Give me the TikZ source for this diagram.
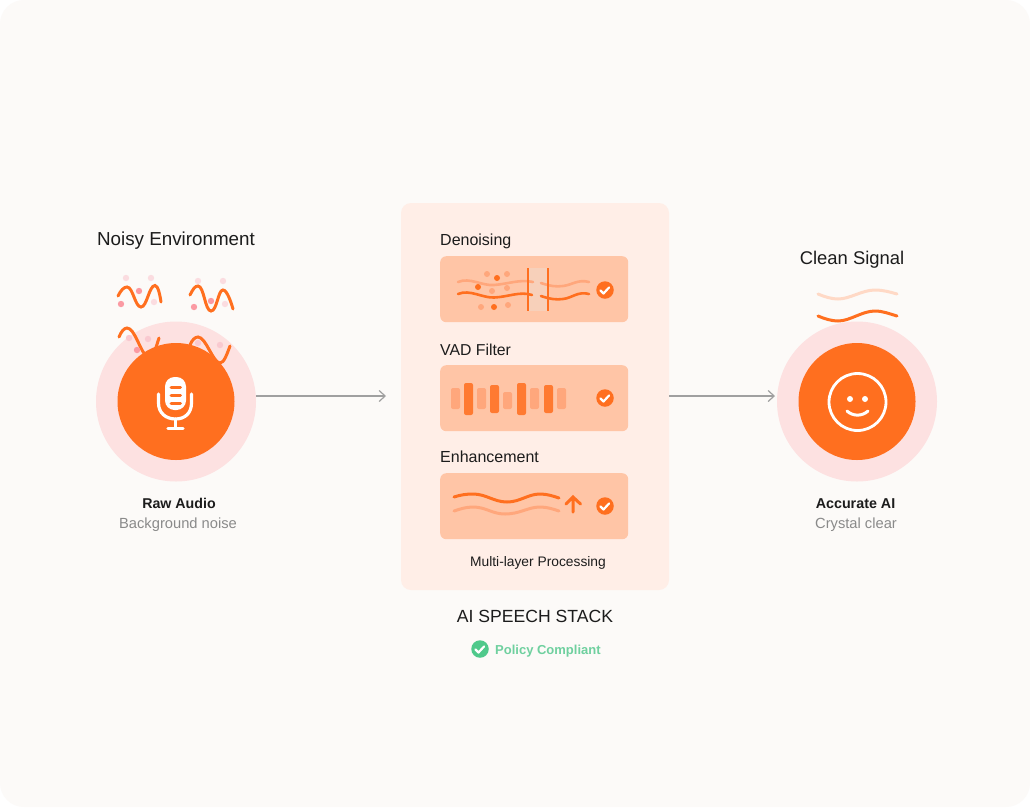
\documentclass[tikz,border=0pt]{standalone}
\usepackage{fontspec}
\setmainfont{Liberation Sans}
\usetikzlibrary{arrows.meta}
\definecolor{bgc}{HTML}{FCFAF8}
\definecolor{ora}{HTML}{FF6F1F}
\definecolor{halo}{HTML}{FDE1E1}
\definecolor{panelc}{HTML}{FFEEE7}
\definecolor{cardc}{HTML}{FFC5A6}
\definecolor{midor}{HTML}{FFA77C}
\definecolor{paleor}{HTML}{FFD9C6}
\definecolor{bandc}{HTML}{F7D0BA}
\definecolor{pinkd}{HTML}{FB9AA3}
\definecolor{pinkl}{HTML}{FBDCE0}
\definecolor{pinkh}{HTML}{F9C9D0}
\definecolor{grn}{HTML}{4FC98B}
\definecolor{grnt}{HTML}{6FD09F}
\definecolor{txt}{HTML}{1C1C1C}
\definecolor{subt}{HTML}{8A8A8A}
\definecolor{arrowc}{HTML}{A0A0A0}
\tikzset{
 x=1pt,y=-1pt,
 halocirc/.style={circle,fill=halo,minimum size=160pt,inner sep=0pt},
 corecirc/.style={circle,fill=ora,minimum size=117pt,inner sep=0pt},
 head/.style={font=\fontsize{#1}{20}\selectfont,text=txt,inner sep=0pt},
 small/.style={font=\fontsize{#1}{18}\selectfont,text=txt,inner sep=0pt},
 capt/.style={font=\fontsize{13.8}{15}\selectfont,text=txt,inner sep=0pt},
 boldl/.style={font=\fontsize{#1}{16}\selectfont\bfseries,text=txt,inner sep=0pt},
 subl/.style={font=\fontsize{14.7}{16}\selectfont,text=subt,inner sep=0pt},
 card/.style={fill=cardc,rounded corners=6pt,draw=none},
 wave/.style={line width=3pt,line cap=round,draw=ora},
 wavem/.style={line width=3pt,line cap=round,draw=midor},
 flow/.style={draw=arrowc,line width=1.2pt,-{Straight Barb[length=6pt,width=11pt]}},
 chk/.style={circle,fill=ora,minimum size=17.5pt,inner sep=0pt},
 tick/.style={draw=white,line width=2.2pt,line cap=round,line join=round},
}
\newcommand{\dotp}[3]{\fill[#1] (#2,#3) circle (3.2pt);}
\begin{document}
\begin{tikzpicture}
\useasboundingbox (0,0) rectangle (1030,807);
\fill[white] (0,0) rectangle (1030,807);
\fill[bgc,rounded corners=24pt] (0,0) rectangle (1030,807);

% left
\node[head=18.8,anchor=base] (noisy) at (176,245) {Noisy Environment};
\node[halocirc] (lhalo) at (176,401.5) {};
\draw[wave] (118,296) .. controls (121,290) and (124,287) .. (127,287) .. controls (133,287) and (135,307) .. (141,307) .. controls (147,307) and (149,285.5) .. (155,285.5) .. controls (158,285.5) and (160,295) .. (161,302);
\draw[wave] (190,295) .. controls (193,289) and (195,286) .. (198,286) .. controls (204,286) and (205,311) .. (211,311) .. controls (217,311) and (218,290) .. (223,290) .. controls (227,290) and (231,302) .. (233,309);
\draw[wave] (119,337) .. controls (121,332) and (124,328) .. (127,328) .. controls (135,328) and (140,352) .. (148,358) .. controls (153,360) and (156,347) .. (159,338);
\draw[wave] (190,345) .. controls (192,340) and (195,337) .. (198,337) .. controls (206,337) and (213,363) .. (220,363) .. controls (224,363) and (227,354) .. (230,346);
\dotp{pinkl}{126}{278}\dotp{pinkl}{151}{278}\dotp{pinkd}{139}{291}\dotp{pinkd}{121}{304}\dotp{pinkl}{154}{302}
\dotp{pinkl}{198}{281}\dotp{pinkl}{223}{281}\dotp{pinkd}{211}{301}\dotp{pinkd}{194}{307}\dotp{pinkl}{225}{304}
\dotp{pinkh}{129}{338}\dotp{pinkh}{148}{339}\dotp{pinkd}{137}{350}\dotp{pinkh}{198}{343}\dotp{pinkh}{220}{345}
\node[corecirc] (lcore) at (176,401.5) {};
% mic
\fill[white,rounded corners=9.5pt] (165,377) rectangle (186,410);
\draw[ora,line width=3pt,line cap=round] (171,387)--(180.5,387) (171,395)--(180.5,395) (171,403)--(180.5,403);
\draw[white,line width=3.2pt,line cap=round] (158.5,394) -- (158.5,403) .. controls (158.5,413) and (166,419) .. (175.5,419) .. controls (185,419) and (191.5,413) .. (191.5,403) -- (191.5,394);
\draw[white,line width=3.2pt,line cap=round] (175.5,419)--(175.5,428) (168,428.5)--(183,428.5);
\node[boldl=14.2,anchor=base] (raw) at (179,508) {Raw Audio};
\node[subl,anchor=base] (bg) at (178,528) {Background noise};

% panel
\fill[panelc,rounded corners=10pt] (401,203) rectangle (669,590);
\node[small=16,anchor=base west] (den) at (440,245) {Denoising};
\node[card,anchor=north west,minimum width=188pt,minimum height=66pt] (c1) at (440,256) {};
\node[small=15.8,anchor=base west] (vad) at (440,355) {VAD Filter};
\node[card,anchor=north west,minimum width=188pt,minimum height=66pt] (c2) at (440,365) {};
\node[small=16,anchor=base west] (enh) at (440,462) {Enhancement};
\node[card,anchor=north west,minimum width=188pt,minimum height=66pt] (c3) at (440,473) {};
\node[capt,anchor=base] (multi) at (538,566) {Multi-layer Processing};

% denoising contents
\fill[bandc] (528,268) rectangle (548,311);
\draw[wavem,line width=2.6pt] (458,282) .. controls (470,277) and (482,286) .. (494,285) .. controls (508,284) and (520,279) .. (533,282);
\draw[wave,line width=2.6pt] (458,294) .. controls (470,289) and (482,298) .. (494,297.5) .. controls (508,297) and (520,291) .. (532,295);
\draw[wavem,line width=2.6pt] (541,283) .. controls (550,286) and (556,287) .. (563,286) .. controls (572,285) and (578,279) .. (589,282);
\draw[wave,line width=2.6pt] (541,296) .. controls (550,299) and (556,300) .. (563,299) .. controls (572,298) and (578,291) .. (589,294);
\draw[ora,line width=1.8pt] (528,268)--(528,311);
\draw[ora,line width=1.8pt] (548,268)--(548,311);
\foreach \a/\b in {487/274,507/274,492/291,507/288,481/307,508/305}{\fill[midor] (\a,\b) circle (3pt);}
\foreach \a/\b in {497/278,478/287,494/307}{\fill[ora] (\a,\b) circle (3pt);}
\node[chk] (k1) at (605,290) {};
\draw[tick] (600.5,290.5)--(603.5,293.5)--(609,287.5);

% VAD
\foreach \xx in {451,477,530,557}{\fill[midor,rounded corners=2pt] (\xx,388) rectangle +(9,21);}
\fill[midor,rounded corners=2pt] (503,392) rectangle +(9,17);
\foreach \xx/\ya/\yb in {464/383/415,490/385/413,517/383/415,544/385/413}{\fill[ora!92!white,rounded corners=2pt] (\xx,\ya) rectangle (\xx+9,\yb);}
\node[chk] (k2) at (605,398) {};
\draw[tick] (600.5,398.5)--(603.5,401.5)--(609,395.5);

% enhancement
\draw[wave] (454,497) .. controls (460,495) and (466,494) .. (473,494) .. controls (486,494) and (494,502) .. (507,502) .. controls (520,502) and (528,494) .. (540,494) .. controls (547,494) and (553,496) .. (559,498);
\draw[wavem] (454,511) .. controls (460,509) and (466,507) .. (473,507) .. controls (486,507) and (492,514) .. (505,514) .. controls (520,514) and (528,507) .. (540,507) .. controls (547,507) and (553,509) .. (559,511);
\draw[wave] (573,512)--(573,497) (566,504)--(573,497)--(580.5,504);
\node[chk] (k3) at (605,506) {};
\draw[tick] (600.5,506.5)--(603.5,509.5)--(609,503.5);

% footer
\node[head=17.6,anchor=base] (stack) at (535,622) {AI SPEECH STACK};
\node[circle,fill=grn,minimum size=17.5pt,inner sep=0pt] (gk) at (480,649) {};
\draw[tick] (475.5,649.5)--(478.5,652.5)--(484,646.5);
\node[anchor=base west,inner sep=0pt,font=\fontsize{13}{15}\selectfont\bfseries,text=grnt] (pol) at (495,654.5) {Policy Compliant};

% right
\node[head=18.4,anchor=base] (clean) at (852,264) {Clean Signal};
\draw[line width=3pt,line cap=round,draw=paleor] (818,294) .. controls (825,297) and (832,299) .. (838,299) .. controls (850,299) and (862,290) .. (875,290) .. controls (883,290) and (890,292) .. (897,294);
\draw[wave] (818,316) .. controls (825,319) and (832,321) .. (838,321) .. controls (850,321) and (862,311) .. (875,311) .. controls (883,311) and (890,314) .. (897,316);
\node[halocirc] (rhalo) at (857,401.5) {};
\node[corecirc] (rcore) at (857,401.5) {};
\node[circle,draw=white,line width=2.8pt,minimum size=57pt,inner sep=0pt] (face) at (857.5,402) {};
\fill[white] (850,399) circle (3pt) (865,399) circle (3pt);
\draw[white,line width=3pt,line cap=round] (847,411) .. controls (853,416.5) and (862,416.5) .. (868,411);
\node[boldl=14.3,anchor=base] (acc) at (855.5,508) {Accurate AI};
\node[subl,anchor=base] (cry) at (856,528) {Crystal clear};

% arrows
\coordinate (a1s) at (256,396);\coordinate (a1e) at (386,396);
\coordinate (a2s) at (669,396);\coordinate (a2e) at (775,396);
\draw[flow] (a1s)--(a1e);
\draw[flow] (a2s)--(a2e);
\end{tikzpicture}
\end{document}
